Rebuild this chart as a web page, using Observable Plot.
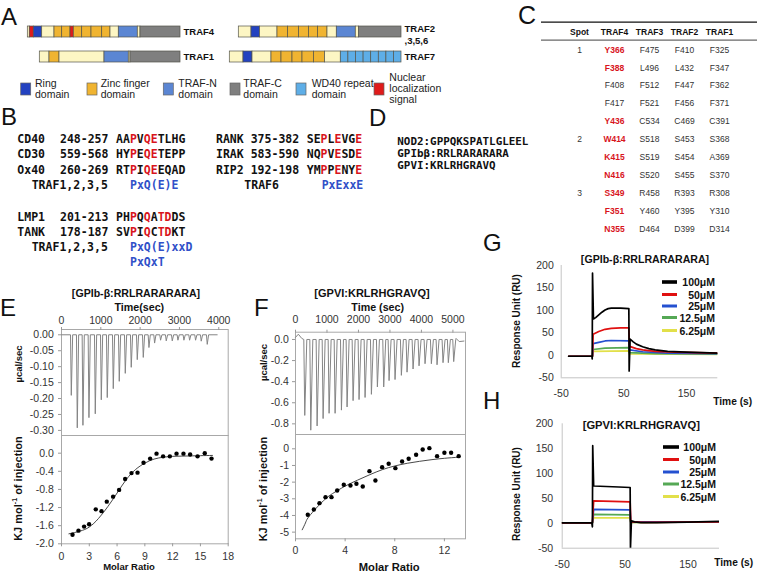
<!DOCTYPE html>
<html><head><meta charset="utf-8">
<script src="https://cdn.jsdelivr.net/npm/d3@7"></script>
<script src="https://cdn.jsdelivr.net/npm/@observablehq/plot@0.6"></script>
<style>
html,body{margin:0;padding:0;background:#fff;}
#fig{position:relative;width:763px;height:573px;overflow:hidden;background:#fff;}
</style></head><body><div id="fig"></div>
<script>
const W = 763, H = 573;
const FONT = "'Liberation Sans', Arial, Helvetica, sans-serif";
const MONO = "'DejaVu Sans Mono', 'Liberation Mono', monospace";
const RED = "#d8141c", BLUE_TXT = "#3050c8";
const fig = document.getElementById("fig");
const baseStyle = {position:"absolute", left:"0px", top:"0px", background:"transparent", overflow:"visible", fontFamily:FONT, fontSize:"10.5px", color:"#333"};
function box(l, t, r, b) { return {width:W, height:H, marginLeft:l, marginTop:t, marginRight:W - r, marginBottom:H - b, style:baseStyle}; }
function add(p) { fig.append(p); }

// ================= DATA =================
// Panel A: domain architecture (segment type, length in drawing units, N- to C-terminus)
const domainTypes  = ["cream", "ring", "zf", "traf_n", "traf_c", "wd40", "nls"];
const domainColors = ["#fdf6c4", "#2342c0", "#f0b431", "#5b86d3", "#7f7f7f", "#5eaee7", "#df1b1b"];
const traf4Segs = [["cream",2],["nls",4],["ring",8.4],["cream",12.3],["zf",7.7],["zf",8.3],["nls",3.3],["zf",8.4],["zf",9.3],["zf",10.7],["zf",8.3],["cream",8.3],["traf_n",19],["cream",2.7],["traf_c",40]];
const traf1Segs = [["cream",9.7],["zf",10],["cream",45],["traf_n",24.3],["cream",1.7],["traf_c",50]];
const traf2Segs = [["cream",12.7],["ring",8.6],["cream",17.4],["zf",10.6],["zf",11],["zf",10],["zf",9],["zf",9.4],["cream",9.3],["traf_n",19],["cream",3.3],["traf_c",42.4]];
const traf7Segs = [["cream",13.7],["ring",9],["cream",19],["zf",10],["zf",11],["zf",10],["zf",11.6],["zf",11],["cream",15.7],["wd40",7.6],["wd40",7.6],["wd40",7.6],["wd40",7.6],["wd40",7.6],["wd40",7.6],["wd40",7.6],["wd40",7.5]];
const legendTypes = ["ring", "zf", "traf_n", "traf_c", "wd40", "nls"];
const legendLabels = [["Ring","domain"],["Zinc finger","domain"],["TRAF-N","domain"],["TRAF-C","domain"],["WD40 repeat","domain"],["Nuclear","localization","signal"]];

// Panel B
const bLeftNames = ["CD40", "CD30", "Ox40"];
const bLeftRanges = ["248-257", "559-568", "260-269"];
const bLeftSeqs = ["AAPVQETLHG", "HYPEQETEPP", "RTPIQEEQAD"];
const bLeftRed = [[2,4,5],[2,4,5],[2,4,5]];
const bRightNames = ["RANK", "IRAK", "RIP2"];
const bRightRanges = ["375-382", "583-590", "192-198"];
const bRightSeqs = ["SEPLEVGE", "NQPVESDE", "YMPPENYE"];
const bRightRed = [[2,4,7],[2,4,7],[2,4,7]];
const bLowNames = ["LMP1", "TANK"];
const bLowRanges = ["201-213", "178-187"];
const bLowSeqs = ["PHPQQATDDS", "SVPIQCTDKT"];
const bLowRed = [[2,4,6,7],[2,4,6,7]];

// Panel C
const tableCols = ["Spot", "TRAF4", "TRAF3", "TRAF2", "TRAF1"];
const spotLabels = ["1","","","","","2","","","3","",""];
const traf4Res = ["Y366","F388","F408","F417","Y436","W414","K415","N416","S349","F351","N355"];
const traf4Hit = [true,true,false,false,true,true,true,true,true,true,true];
const traf3Res = ["F475","L496","F512","F521","C534","S518","S519","S520","R458","Y460","D464"];
const traf2Res = ["F410","L432","F447","F456","C469","S453","S454","S455","R393","Y395","D399"];
const traf1Res = ["F325","F347","F362","F371","C391","S368","A369","S370","R308","Y310","D314"];

// Panel D
const dPeptides = ["NOD2:GPPQKSPATLGLEEL", "GPIbβ:RRLRARARARA", "GPVI:KRLRHGRAVQ"];

// Panel E (ITC, GPIb-β)
const eInjTime = [229,381,525,678,839,992,1144,1297,1449,1602,1754,1907,2060,2204,2348,2500,2644,2797,2941,3093,3238,3390,3534,3687];
const eInjPeak = [-0.190,-0.292,-0.284,-0.260,-0.248,-0.204,-0.197,-0.169,-0.146,-0.121,-0.102,-0.078,-0.071,-0.040,-0.026,-0.017,-0.019,-0.019,-0.017,-0.017,-0.017,-0.017,-0.020,-0.030];
const eRatio = [1.19,1.83,2.44,2.98,3.70,4.32,4.89,5.57,6.22,6.87,7.56,8.21,8.86,9.57,10.26,10.97,11.70,12.42,13.17,13.89,14.69,15.47,16.20];
const eHeat  = [-1.80,-1.71,-1.62,-1.57,-1.24,-1.28,-1.07,-0.96,-0.81,-0.57,-0.44,-0.43,-0.21,-0.12,-0.01,-0.07,-0.07,-0.01,-0.01,-0.03,-0.07,0.00,-0.12];
const eFitX = [0.8,2,3,4,5,6,7,8,9,10,11,12,13,14,15,16.3];
const eFitY = [-1.78,-1.72,-1.63,-1.44,-1.18,-0.88,-0.58,-0.36,-0.22,-0.13,-0.09,-0.07,-0.065,-0.06,-0.055,-0.05];

// Panel F (ITC, GPVI)
const fInjTime = [264,455,656,847,1037,1228,1429,1608,1799,1989,2180,2381,2571,2772,2942,3132,3333,3513,3704,3894,4085,4286,4466,4656,4825,4995];
const fInjPeak = [-0.72,-0.86,-0.82,-0.75,-0.70,-0.70,-0.67,-0.64,-0.58,-0.57,-0.55,-0.52,-0.45,-0.45,-0.39,-0.38,-0.34,-0.31,-0.28,-0.25,-0.23,-0.23,-0.24,-0.22,-0.22,-0.21];
const fStart = [[0,0.02],[90,0.05],[200,0.01]];
const fEnd = [[5100,0.01],[5200,-0.02],[5350,-0.015]];
const fRatio = [0.99,1.48,1.93,2.42,2.90,3.36,3.89,4.43,4.91,5.42,5.96,6.44,6.98,7.51,8.05,8.59,9.12,9.72,10.25,10.79,11.41,12.00,12.54,13.15];
const fHeat  = [-3.96,-3.64,-3.26,-2.90,-2.90,-2.50,-2.16,-2.20,-2.10,-2.26,-1.34,-1.90,-1.10,-0.90,-1.16,-0.76,-0.60,-0.36,-0.04,0.04,-0.44,-0.24,-0.24,-0.44];
const fFitX = [0.54,0.8,1.0,1.5,2,2.5,3,4,5,6,7,8,9,10,11,12,13.2];
const fFitY = [-4.86,-4.45,-4.15,-3.7,-3.3,-2.95,-2.68,-2.24,-1.88,-1.55,-1.25,-1.03,-0.87,-0.75,-0.65,-0.57,-0.50];

// Panels G/H (SPR) : [time s, RU]
const concLabels = ["100μM", "50μM", "25μM", "12.5μM", "6.25μM"];
const concColors = ["#000000", "#e01010", "#2450d0", "#55a855", "#e2e04a"];
const g100 = [[-38,-2],[-1,-2],[-0.5,-8],[0,183],[1.5,81],[5,84],[10,90],[15,96],[20,101],[25,104],[30,105],[45,105],[58,104],[58.5,-35],[60,36],[65,30],[70,25],[80,19],[90,15],[100,12],[120,9],[150,7],[200,5]];
const g50  = [[-38,-2],[0,-2],[1,47],[10,53],[20,58],[30,60],[45,61],[58,61],[59,20],[70,15],[80,12],[100,9],[130,7],[200,5]];
const g25  = [[-38,-2],[0,-2],[1,26],[10,29],[20,32],[30,33],[58,32],[59,12],[80,8],[120,5],[200,4]];
const g12  = [[-38,-2],[0,-2],[1,13],[20,16],[58,17],[59,6],[100,4],[200,3]];
const g6   = [[-38,-2],[0,-2],[1,9],[58,10],[59,3],[200,2]];
const h100 = [[-50,1],[-3,1],[-2,-7],[-1.5,156],[0,75],[20,74],[40,73],[58,72],[58.5,-50],[60,5],[65,3],[75,1.5],[100,1.5],[150,2.5],[200,4]];
const h50  = [[-50,1],[-2,1],[0,45],[30,44],[58,43],[59,3],[80,2],[200,3]];
const h25  = [[-50,1],[-2,1],[0,28],[58,27],[59,3],[200,3]];
const h12  = [[-50,1],[-2,1],[0,18],[58,17],[59,2],[200,3]];
const h6   = [[-50,1],[-2,1],[0,11],[58,11],[59,2],[200,3]];

// ================= PANEL A =================
function segRects(name, segs) {
  const total = d3.sum(segs, d => d[1]);
  let c = -total;
  return segs.map(([type, len]) => { const r = {protein:name, type, x1:c, x2:c + len}; c += len; return r; });
}
const yBand = {type:"band", range:[19, 69], paddingInner:0.56, paddingOuter:0.28, round:false};
const lblOpt = {textAnchor:"start", dx:3, fontWeight:"bold", fontSize:9.5, fill:"#111"};
add(Plot.plot({width:W, height:H, style:baseStyle, axis:null,
  x:{domain:[-180, 0], range:[0, 180]},
  y:{...yBand, domain:["TRAF4", "TRAF1"]},
  color:{type:"ordinal", domain:domainTypes, range:domainColors},
  marks:[
    Plot.barX([...segRects("TRAF4", traf4Segs), ...segRects("TRAF1", traf1Segs)], {x1:"x1", x2:"x2", y:"protein", fill:"type", stroke:"#55554a", strokeWidth:0.7}),
    Plot.text(["TRAF4", "TRAF1"], {x:() => 0, y:d => d, text:d => d, ...lblOpt})
  ]}));
add(Plot.plot({width:W, height:H, style:baseStyle, axis:null,
  x:{domain:[-176, 0], range:[225, 401]},
  y:{...yBand, domain:["TRAF2", "TRAF7"]},
  color:{type:"ordinal", domain:domainTypes, range:domainColors},
  marks:[
    Plot.barX([...segRects("TRAF2", traf2Segs), ...segRects("TRAF7", traf7Segs)], {x1:"x1", x2:"x2", y:"protein", fill:"type", stroke:"#55554a", strokeWidth:0.7}),
    Plot.text(["TRAF2"], {x:() => 0, y:d => d, text:d => d, dy:-2.7, ...lblOpt}),
    Plot.text(["TRAF2"], {x:() => 0, y:d => d, text:() => ",3,5,6", dy:9.3, ...lblOpt}),
    Plot.text(["TRAF7"], {x:() => 0, y:d => d, text:d => d, ...lblOpt})
  ]}));

// ================= PANEL C =================
const cells = d3.range(traf4Res.length).flatMap(i => [
  {col:"Spot", row:i, text:spotLabels[i], hit:false},
  {col:"TRAF4", row:i, text:traf4Res[i], hit:traf4Hit[i]},
  {col:"TRAF3", row:i, text:traf3Res[i], hit:false},
  {col:"TRAF2", row:i, text:traf2Res[i], hit:false},
  {col:"TRAF1", row:i, text:traf1Res[i], hit:false}
]);
add(Plot.plot({width:W, height:H, marginLeft:541, marginRight:W - 757, marginTop:0, marginBottom:0, style:baseStyle, axis:null,
  x:{type:"point", domain:tableCols, range:[560, 738]},
  y:{domain:[-1.55, 10.45], range:[21.7, 236.5]},
  marks:[
    Plot.ruleY([-1.55], {stroke:"#111", strokeWidth:1.2}),
    Plot.ruleY([-0.55], {stroke:"#111", strokeWidth:0.8}),
    Plot.text(tableCols, {x:d => d, y:() => -1, text:d => d, fontWeight:"bold", fontSize:8.5, fill:"#111"}),
    Plot.text(cells.filter(d => !d.hit), {x:"col", y:"row", text:"text", fontSize:8.5, fill:"#333"}),
    Plot.text(cells.filter(d => d.hit), {x:"col", y:"row", text:"text", fontSize:8.5, fontWeight:"bold", fill:RED})
  ]}));

// ================= PANEL E / F (ITC) =================
function itcTrace(start, times, peaks, fall, rise, end) {
  const pts = [...start];
  times.forEach((t, i) => { pts.push([t, 0], [t + fall, peaks[i]], [t + rise, 0]); });
  return pts.concat(end);
}
const axStyle = {stroke:"#999", fill:"#333", fontSize:10.5, label:null};
// E top
add(Plot.plot({...box(61, 329, 227.7, 435),
  x:{domain:[0, 4240]}, y:{domain:[-0.316, 0.0166]},
  marks:[
    Plot.frame({stroke:"#a8a8a8"}),
    Plot.axisX({anchor:"top", ticks:[0,1000,2000,3000,4000], tickFormat:d => String(d), tickSize:3, tickPadding:3, ...axStyle}),
    Plot.axisY({ticks:[0,-0.05,-0.1,-0.15,-0.2,-0.25,-0.3], tickFormat:d => d.toFixed(2), tickSize:3, tickPadding:4.7, ...axStyle}),
    Plot.line(itcTrace([[0,0]], eInjTime, eInjPeak, 20, 55, [[3960,0]]), {x:d => d[0], y:d => d[1], stroke:"#858585", strokeWidth:1})
  ]}));
// E bottom
add(Plot.plot({...box(61, 435, 227.7, 543.3),
  x:{domain:[0, 18]}, y:{domain:[-2.0, 0.39]},
  marks:[
    Plot.frame({stroke:"#a8a8a8"}),
    Plot.axisX({ticks:[0,3,6,9,12,15,18], tickFormat:d => String(d), tickSize:3, tickPadding:6, ...axStyle}),
    Plot.axisY({ticks:[0,-0.4,-0.8,-1.2,-1.6,-2.0], tickFormat:d => d.toFixed(1), tickSize:3, tickPadding:4.7, ...axStyle}),
    Plot.line(eFitX.map((x, i) => [x, eFitY[i]]), {x:d => d[0], y:d => d[1], stroke:"#333", strokeWidth:0.9, curve:"natural"}),
    Plot.dot(eRatio.map((x, i) => [x, eHeat[i]]), {x:d => d[0], y:d => d[1], r:2.2, fill:"#000"})
  ]}));
// F top
add(Plot.plot({...box(295, 331.7, 465, 434),
  x:{domain:[0, 5400]}, y:{domain:[-0.901, 0.069]},
  marks:[
    Plot.frame({stroke:"#a8a8a8"}),
    Plot.axisX({anchor:"top", ticks:[0,1000,2000,3000,4000,5000], tickFormat:d => String(d), tickSize:3, tickPadding:5.9, ...axStyle}),
    Plot.axisY({ticks:[0,-0.2,-0.4,-0.6,-0.8], tickFormat:d => d.toFixed(1), tickSize:3, tickPadding:3.7, ...axStyle}),
    Plot.line(itcTrace(fStart, fInjTime, fInjPeak, 30, 95, fEnd), {x:d => d[0], y:d => d[1], stroke:"#858585", strokeWidth:1})
  ]}));
// F bottom
add(Plot.plot({...box(295, 434, 465, 538.3),
  x:{domain:[0, 13.7]}, y:{domain:[-5.4, 0.858]},
  marks:[
    Plot.frame({stroke:"#a8a8a8"}),
    Plot.axisX({ticks:[0,4,8,12], tickFormat:d => String(d), tickSize:3, tickPadding:5, ...axStyle}),
    Plot.axisY({ticks:[0,-1,-2,-3,-4,-5], tickFormat:d => String(d), tickSize:3, tickPadding:3.5, ...axStyle}),
    Plot.line(fFitX.map((x, i) => [x, fFitY[i]]), {x:d => d[0], y:d => d[1], stroke:"#333", strokeWidth:0.9, curve:"natural"}),
    Plot.dot(fRatio.map((x, i) => [x, fHeat[i]]), {x:d => d[0], y:d => d[1], r:2.2, fill:"#000"})
  ]}));

// ================= PANEL G / H (SPR) =================
function sprPlot(l, t, r, b, series, padY) {
  const order = [4, 3, 2, 1, 0];
  return Plot.plot({...box(l, t, r, b),
    x:{domain:[-50, 200]}, y:{domain:[-50, 200]},
    marks:[
      Plot.ruleX([-50], {stroke:"#c4c4c4"}),
      Plot.ruleY([-50], {stroke:"#c4c4c4"}),
      Plot.axisY({ticks:[-50,0,50,100,150,200], tickFormat:d => String(d), tickSize:0, tickPadding:padY, fill:"#333", fontSize:10.5, label:null}),
      Plot.axisX({ticks:[-50,50,150], tickFormat:d => String(d), tickSize:0, tickPadding:12, fill:"#333", fontSize:10.5, label:null}),
      ...order.map(i => Plot.line(series[i], {x:d => d[0], y:d => d[1], stroke:concColors[i], strokeWidth:1.7, clip:true}))
    ]});
}
add(sprPlot(560.7, 265, 717.3, 377.3, [g100, g50, g25, g12, g6], 7.4));
add(sprPlot(561.7, 423.3, 719, 547.7, [h100, h50, h25, h12, h6], 9));

// ================= STATIC TEXT / LEGENDS OVERLAY =================
const ov = d3.select(fig).append("svg").attr("width", W).attr("height", H)
  .style("position", "absolute").style("left", "0px").style("top", "0px").style("overflow", "visible");
function T(x, y, s, o = {}) {
  const t = ov.append("text").attr("x", x).attr("y", y).attr("dominant-baseline", "central")
    .attr("font-family", o.family || FONT).attr("font-size", o.size || 10.5)
    .attr("font-weight", o.weight || "normal").attr("fill", o.fill || "#111")
    .attr("text-anchor", o.anchor || "start");
  if (o.rotate) t.attr("transform", `rotate(${o.rotate} ${x} ${y})`);
  if (s != null) t.text(s);
  return t;
}
function seqT(x, y, str, red, o) {
  const t = T(x, y, null, o);
  [...str].forEach((ch, i) => t.append("tspan").attr("fill", red.includes(i) ? RED : "#111").text(ch));
}
// panel letters
const L = {size:24};
T(1, 16, "A", L); T(1, 116, "B", L); T(518, 15, "C", {size:25}); T(369, 117, "D", L);
T(0, 307, "E", L); T(254, 307, "F", L); T(483, 242, "G", L); T(483, 400, "H", L);

// panel A legend
const swX = [20.7, 87, 163.3, 230, 296, 374];
const txX = [35, 100.7, 178.3, 243.3, 311.7, 389.3];
legendTypes.forEach((tp, i) => {
  ov.append("rect").attr("x", swX[i]).attr("y", 83).attr("width", 10).attr("height", 12)
    .attr("fill", domainColors[domainTypes.indexOf(tp)]).attr("stroke", "#666").attr("stroke-width", 0.7);
  const lines = legendLabels[i];
  const ys = lines.length === 3 ? [76.7, 87.7, 98.5] : [82.5, 93.8];
  lines.forEach((s, j) => T(txX[i], ys[j], s, {size:10.5, fill:"#222"}));
});

// panel B
const monoB = {family:MONO, size:11.5, weight:"bold"};
[139, 154.3, 170].forEach((y, i) => {
  T(17.3, y, bLeftNames[i], monoB); T(60, y, bLeftRanges[i], monoB); seqT(116, y, bLeftSeqs[i], bLeftRed[i], monoB);
  T(216, y, bRightNames[i], monoB); T(250.7, y, bRightRanges[i], monoB); seqT(306.7, y, bRightSeqs[i], bRightRed[i], monoB);
});
T(31.7, 185, "TRAF1,2,3,5", monoB); T(130, 185, "PxQ(E)E", {...monoB, fill:BLUE_TXT});
T(244.3, 185, "TRAF6", monoB); T(321.7, 185, "PxExxE", {...monoB, fill:BLUE_TXT});
[216.7, 231.7].forEach((y, i) => {
  T(17.3, y, bLowNames[i], monoB); T(60, y, bLowRanges[i], monoB); seqT(116, y, bLowSeqs[i], bLowRed[i], monoB);
});
T(31.7, 246.7, "TRAF1,2,3,5", monoB); T(130, 246.7, "PxQ(E)xxD", {...monoB, fill:BLUE_TXT});
T(130, 261.7, "PxQxT", {...monoB, fill:BLUE_TXT});

// panel D
[141.7, 153.7, 165.7].forEach((y, i) => T(397.3, y, dPeptides[i], {family:MONO, size:10.9, weight:"bold"}));

// panel E/F titles & axis titles
const BOLD = {weight:"bold", anchor:"middle"};
T(136, 293.3, "[GPIb-β:RRLRARARARA]", {...BOLD, size:10.6});
T(139.3, 306.7, "Time(sec)", {...BOLD, size:10.7});
T(18, 364, "µcal/sec", {...BOLD, size:9.5, rotate:-90});
function kjLabel(x, y) {
  const t = T(x, y, null, {...BOLD, size:11, rotate:-90});
  t.append("tspan").text("KJ mol");
  t.append("tspan").attr("dy", -4).attr("font-size", 7).text("-1");
  t.append("tspan").attr("dy", 4).text(" of injection");
}
kjLabel(18, 488.5);
T(129, 566.7, "Molar Ratio", {...BOLD, size:9.5});
T(372, 293.3, "[GPVI:KRLRHGRAVQ]", {...BOLD, size:11});
T(377.7, 306.7, "Time (sec)", {...BOLD, size:10.7});
T(263.3, 362.5, "µcal/sec", {...BOLD, size:9.5, rotate:-90});
kjLabel(263.3, 489);
T(389.2, 566.7, "Molar Ratio", {...BOLD, size:11.2});

// panel G/H titles, axis titles and legends
T(645, 259.3, "[GPIb-β:RRLRARARARA]", {...BOLD, size:10.6});
T(732.7, 401, "Time (s)", {...BOLD, size:10.2});
T(516.7, 321, "Response Unit (RU)", {...BOLD, size:10, rotate:-90});
T(641.3, 425, "[GPVI:KRLRHGRAVQ]", {...BOLD, size:11.2});
T(733.7, 562.7, "Time (s)", {...BOLD, size:10.2});
T(516.7, 494, "Response Unit (RU)", {...BOLD, size:10, rotate:-90});
function sprLegend(ys, x1, x2, xr) {
  concLabels.forEach((s, i) => {
    ov.append("line").attr("x1", x1).attr("x2", x2).attr("y1", ys[i]).attr("y2", ys[i])
      .attr("stroke", concColors[i]).attr("stroke-width", i === 0 ? 3.6 : 3);
    T(xr, ys[i], s, {weight:"bold", size:10.5, anchor:"end"});
  });
}
sprLegend([282, 294.5, 306, 317.5, 330.5], 662, 677, 715);
sprLegend([447, 459.5, 472, 484, 496.5], 663, 679, 716);
</script></body></html>
